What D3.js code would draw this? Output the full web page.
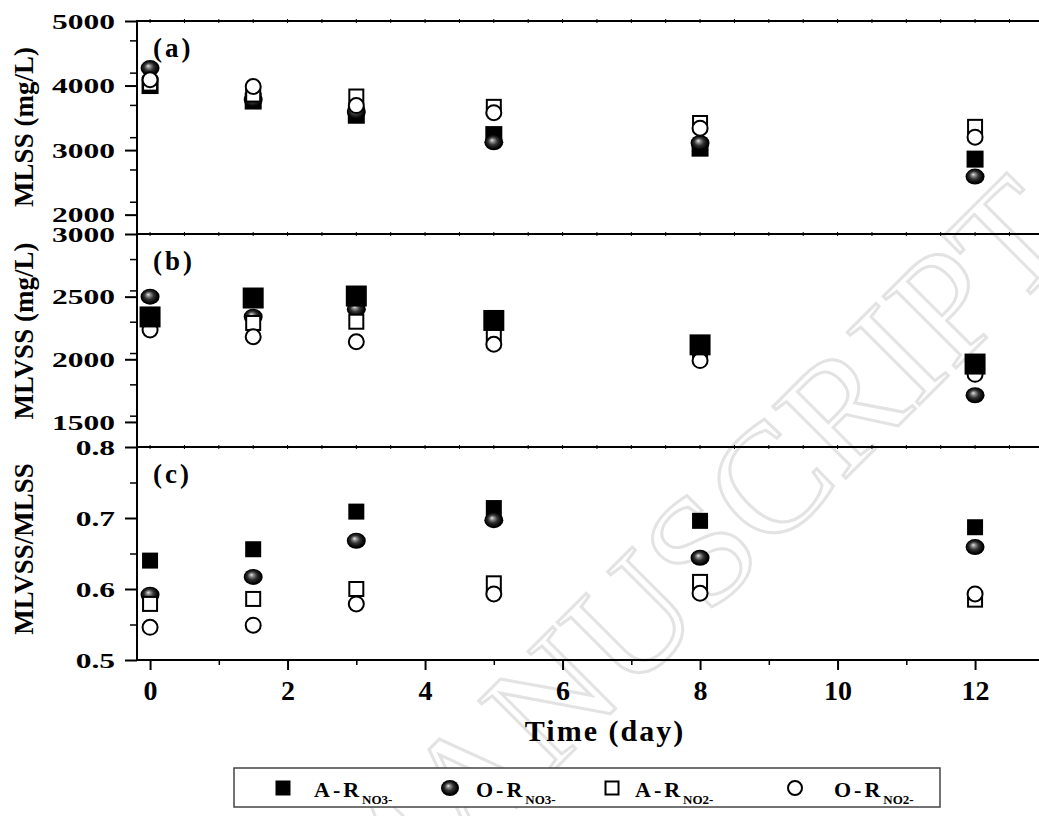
<!DOCTYPE html>
<html>
<head>
<meta charset="utf-8">
<script src="https://cdn.jsdelivr.net/npm/d3@7"></script>
<style>
body { margin: 0; background: #fff; }
svg { display: block; }
text { font-family: "Liberation Serif", "Times New Roman", serif; font-weight: bold; fill: #000; }
</style>
</head>
<body>
<script>
// sampling days
const days = [0, 1.5, 3, 5, 8, 12];

// (a) MLSS, mg/L
const mlssARNO3 = [4000, 3760, 3540, 3240, 3030, 2860];
const mlssORNO3 = [4270, 3780, 3590, 3120, 3110, 2590];
const mlssARNO2 = [4030, 3860, 3830, 3670, 3420, 3360];
const mlssORNO2 = [4090, 3985, 3690, 3580, 3340, 3200];

// (b) MLVSS, mg/L
const mlvssARNO3 = [2338, 2489, 2505, 2310, 2115, 1962];
const mlvssORNO3 = [2500, 2340, 2400, 2300, 2100, 1713];
const mlvssARNO2 = [2300, 2290, 2300, 2205, 2060, 1920];
const mlvssORNO2 = [2234, 2180, 2140, 2120, 1990, 1880];

// (c) MLVSS/MLSS
const ratioARNO3 = [0.640, 0.656, 0.709, 0.714, 0.696, 0.687];
const ratioORNO3 = [0.592, 0.617, 0.668, 0.697, 0.644, 0.659];
const ratioARNO2 = [0.579, 0.586, 0.600, 0.608, 0.610, 0.585];
const ratioORNO2 = [0.546, 0.549, 0.579, 0.593, 0.594, 0.593];

const xTicks = [0, 2, 4, 6, 8, 10, 12];
const xMinor = [1, 3, 5, 7, 9, 11];
const mlssTicks = [2000, 3000, 4000, 5000];
const mlvssTicks = [1500, 2000, 2500, 3000];
const ratioTicks = [0.5, 0.6, 0.7, 0.8];

const legendMain = ["A-R", "O-R", "A-R", "O-R"];
const legendSub = ["NO3-", "NO3-", "NO2-", "NO2-"];

const width = 1039;
const height = 816;
const left = 137;
const right = 1039;
const panelH = 213;

const svg = d3.select("body").append("svg")
	.attr("width", width)
	.attr("height", height);

const defs = svg.append("defs");
const grad = defs.append("radialGradient")
	.attr("id", "ball")
	.attr("cx", 0.5).attr("cy", 0.5).attr("r", 0.55)
	.attr("fx", 0.4).attr("fy", 0.36);
grad.append("stop").attr("offset", "0%").attr("stop-color", "#f2f2f2");
grad.append("stop").attr("offset", "14%").attr("stop-color", "#a0a0a0");
grad.append("stop").attr("offset", "45%").attr("stop-color", "#333");
grad.append("stop").attr("offset", "80%").attr("stop-color", "#000");

// watermark
svg.append("text")
	.attr("transform", "translate(1081,243) rotate(-45)")
	.attr("text-anchor", "end")
	.style("font-weight", "normal")
	.style("font-size", "156px")
	.style("fill", "none")
	.style("stroke", "#e3e3e3")
	.style("stroke-width", 3)
	.text("ACCEPTED MANUSCRIPT");

const x = d3.scaleLinear().domain([-0.19, 12.93]).range([left, right]);

// marker painters
function drawFilledSquare(g, data, y, size) {
	g.selectAll(null).data(data).enter().append("rect")
		.attr("x", d => x(d.day) - size / 2)
		.attr("y", d => y(d.v) - size / 2)
		.attr("width", size).attr("height", size)
		.attr("fill", "#000");
}
function drawBall(g, data, y) {
	g.selectAll(null).data(data).enter().append("ellipse")
		.attr("cx", d => x(d.day))
		.attr("cy", d => y(d.v))
		.attr("rx", 9.5).attr("ry", 8)
		.attr("fill", "url(#ball)");
}
function drawOpenSquare(g, data, y) {
	g.selectAll(null).data(data).enter().append("rect")
		.attr("x", d => x(d.day) - 7)
		.attr("y", d => y(d.v) - 7)
		.attr("width", 14).attr("height", 14)
		.attr("fill", "#fff").attr("stroke", "#000").attr("stroke-width", 2);
}
function drawOpenCircle(g, data, y) {
	g.selectAll(null).data(data).enter().append("circle")
		.attr("cx", d => x(d.day))
		.attr("cy", d => y(d.v))
		.attr("r", 7.5)
		.attr("fill", "#fff").attr("stroke", "#000").attr("stroke-width", 2);
}

function pair(vals) {
	return days.map((d, i) => ({day: d, v: vals[i]}));
}

const panels = [
	{label: "(a)", title: "MLSS (mg/L)", titleY: 127, domain: [1700, 5000], ticks: mlssTicks, minorStep: 500, fmt: d3.format("d"),
		series: [mlssARNO3, mlssORNO3, mlssARNO2, mlssORNO2], order: ["fs", "ball", "os", "oc"], sq: 17},
	{label: "(b)", title: "MLVSS (mg/L)", titleY: 331, domain: [1300, 3000], ticks: mlvssTicks, minorStep: 250, fmt: d3.format("d"),
		series: [mlvssARNO3, mlvssORNO3, mlvssARNO2, mlvssORNO2], order: ["ball", "os", "oc", "fs"], sq: 21},
	{label: "(c)", title: "MLVSS/MLSS", titleY: 549, domain: [0.5, 0.8], ticks: ratioTicks, minorStep: 0.05, fmt: d3.format(".1f"),
		series: [ratioARNO3, ratioORNO3, ratioARNO2, ratioORNO2], order: ["fs", "ball", "os", "oc"], sq: 16}
];

panels.forEach((p, i) => {
	const top = 21 + i * panelH;
	const y = d3.scaleLinear().domain(p.domain).range([top + panelH, top]);

	// minor left ticks
	const minor = d3.range(p.domain[0], p.domain[1] + 1e-9, p.minorStep)
		.filter(v => p.ticks.every(t => Math.abs(t - v) > 1e-9) && v > p.domain[0] + 1e-9);
	svg.append("g")
		.attr("transform", `translate(${left},0)`)
		.call(d3.axisLeft(y).tickValues(minor).tickSize(7).tickFormat(""))
		.call(g => g.select(".domain").remove())
		.call(g => g.selectAll("line").attr("stroke-width", 1.5));

	const ax = svg.append("g")
		.attr("transform", `translate(${left},0)`)
		.call(d3.axisLeft(y).tickValues(p.ticks).tickSize(12).tickFormat(p.fmt))
		.call(g => g.select(".domain").remove());
	ax.selectAll("line").attr("stroke-width", 2);
	ax.selectAll("text")
		.attr("transform", "scale(1.5,1)")
		.attr("x", -22 / 1.5)
		.attr("dy", "0.34em")
		.style("font-size", "21px");

	// top border with little ticks
	svg.append("line")
		.attr("x1", left).attr("x2", right)
		.attr("y1", top).attr("y2", top)
		.attr("stroke", "#000").attr("stroke-width", 2);
	svg.append("g").selectAll("line")
		.data(d3.range(0, 13.01, 0.5))
		.enter().append("line")
		.attr("x1", d => x(d)).attr("x2", d => x(d))
		.attr("y1", top - 2).attr("y2", top + 2)
		.attr("stroke", "#000").attr("stroke-width", 1);

	// y title
	svg.append("text")
		.attr("transform", `translate(33,${p.titleY}) rotate(-90)`)
		.attr("text-anchor", "middle")
		.style("font-size", "27px")
		.text(p.title);

	// panel label
	svg.append("text")
		.attr("x", 153).attr("y", top + 36)
		.style("font-size", "27px")
		.style("letter-spacing", "3px")
		.text(p.label);

	const g = svg.append("g");
	const painters = {
		fs: () => drawFilledSquare(g, pair(p.series[0]), y, p.sq),
		ball: () => drawBall(g, pair(p.series[1]), y),
		os: () => drawOpenSquare(g, pair(p.series[2]), y),
		oc: () => drawOpenCircle(g, pair(p.series[3]), y)
	};
	p.order.forEach(k => painters[k]());
});

// left axis line
svg.append("line")
	.attr("x1", left).attr("x2", left)
	.attr("y1", 20).attr("y2", 661)
	.attr("stroke", "#000").attr("stroke-width", 2);

// bottom axis
const bottom = 21 + 3 * panelH;
svg.append("g")
	.attr("transform", `translate(0,${bottom})`)
	.call(d3.axisBottom(x).tickValues(xMinor).tickSize(5).tickFormat(""))
	.call(g => g.select(".domain").remove())
	.call(g => g.selectAll("line").attr("stroke-width", 1.5));
const bx = svg.append("g")
	.attr("transform", `translate(0,${bottom})`)
	.call(d3.axisBottom(x).tickValues(xTicks).tickSize(10).tickFormat(d3.format("d")))
	.call(g => g.select(".domain").remove());
bx.selectAll("line").attr("stroke-width", 2);
bx.selectAll("text")
	.attr("y", 40).attr("dy", 0)
	.style("font-size", "28px");
svg.append("line")
	.attr("x1", left).attr("x2", right)
	.attr("y1", bottom).attr("y2", bottom)
	.attr("stroke", "#000").attr("stroke-width", 2);

svg.append("text")
	.attr("x", 605).attr("y", 741)
	.attr("text-anchor", "middle")
	.style("font-size", "30px")
	.style("letter-spacing", "2px")
	.text("Time (day)");

// legend
svg.append("rect")
	.attr("x", 234).attr("y", 768)
	.attr("width", 706).attr("height", 39)
	.attr("fill", "#fff").attr("stroke", "#444").attr("stroke-width", 1.5);

const legendX = [283, 450, 612, 795];
const legendTextX = [314, 476, 635, 834];
const ly = 788;
const lg = svg.append("g");
lg.append("rect").attr("x", legendX[0] - 7.5).attr("y", ly - 7.5).attr("width", 15).attr("height", 15).attr("fill", "#000");
lg.append("ellipse").attr("cx", legendX[1]).attr("cy", ly).attr("rx", 9).attr("ry", 8).attr("fill", "url(#ball)");
lg.append("rect").attr("x", legendX[2] - 6.5).attr("y", ly - 6.5).attr("width", 13).attr("height", 13)
	.attr("fill", "#fff").attr("stroke", "#000").attr("stroke-width", 2);
lg.append("circle").attr("cx", legendX[3]).attr("cy", ly).attr("r", 7)
	.attr("fill", "#fff").attr("stroke", "#000").attr("stroke-width", 2);

legendMain.forEach((m, i) => {
	const t = lg.append("text")
		.attr("x", legendTextX[i]).attr("y", ly + 9)
		.style("font-size", "22px");
	t.append("tspan").style("letter-spacing", "3px").text(m);
	t.append("tspan").attr("dy", 7).style("font-size", "13px").text(legendSub[i]);
});
</script>
</body>
</html>
